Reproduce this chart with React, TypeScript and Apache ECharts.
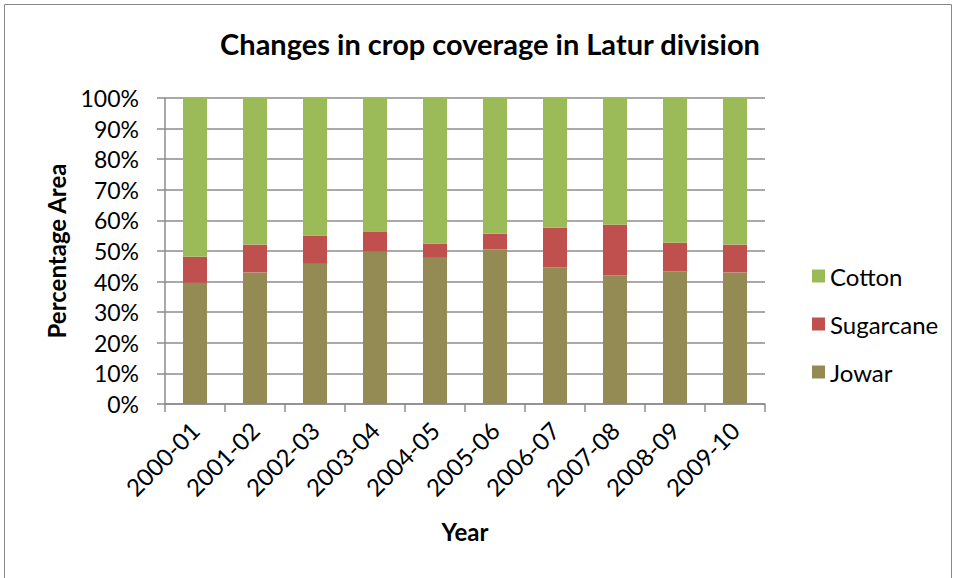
import React, { useEffect, useRef } from "react";
import * as echarts from "echarts";

const years = ["2000-01", "2001-02", "2002-03", "2003-04", "2004-05", "2005-06", "2006-07", "2007-08", "2008-09", "2009-10"];
const jowar = [39.6, 43.0, 45.8, 49.8, 48.0, 50.5, 44.7, 42.0, 43.4, 43.0];
const sugarcane = [8.5, 9.1, 9.2, 6.6, 4.4, 5.2, 12.9, 16.6, 9.3, 9.1];
const cotton = [51.9, 47.9, 45.0, 43.6, 47.6, 44.3, 42.4, 41.4, 47.3, 47.9];

const FONT = "Lato";

export default function App() {
  const ref = useRef<HTMLDivElement>(null);
  useEffect(() => {
    if (!ref.current) return;
    const chart = echarts.init(ref.current, undefined, { renderer: "svg" });
    const axisColor = "#8c8c8c";
    chart.setOption({
      animation: false,
      backgroundColor: "#ffffff",
      textStyle: { fontFamily: FONT, color: "#000" },
      title: {
        text: "Changes in crop coverage in Latur division",
        left: 485,
        textAlign: "center",
        top: 24,
        textStyle: { fontFamily: FONT, fontWeight: "bold", fontSize: 29, color: "#000" },
      },
      graphic: [
        {
          type: "rect",
          shape: { x: 4.5, y: 4.5, width: 947, height: 620 },
          style: { fill: "none", stroke: "#888", lineWidth: 1 },
          silent: true,
        },
      ],
      legend: {
        orient: "vertical",
        left: 807,
        top: 259,
        itemWidth: 13,
        itemHeight: 13,
        itemGap: 24,
        data: ["Cotton", "Sugarcane", "Jowar"],
        textStyle: { fontFamily: FONT, fontSize: 24, color: "#000" },
        icon: "rect",
      },
      grid: { left: 165, right: 192, top: 98, bottom: 174, containLabel: false },
      xAxis: {
        type: "category",
        data: years,
        name: "Year",
        nameLocation: "middle",
        nameGap: 115,
        nameTextStyle: { fontFamily: FONT, fontWeight: "bold", fontSize: 24, color: "#000" },
        axisLine: { lineStyle: { color: axisColor, width: 1.5 } },
        axisTick: { show: true, length: 8, lineStyle: { color: axisColor, width: 1.5 } },
        axisLabel: { rotate: 45, fontFamily: FONT, fontSize: 24, color: "#000", margin: 22 },
      },
      yAxis: {
        type: "value",
        min: 0,
        max: 100,
        interval: 10,
        name: "Percentage Area",
        nameLocation: "middle",
        nameGap: 97,
        nameTextStyle: { fontFamily: FONT, fontWeight: "bold", fontSize: 24, color: "#000" },
        axisLine: { show: true, lineStyle: { color: axisColor, width: 1.5 } },
        axisTick: { show: true, length: 8, lineStyle: { color: axisColor, width: 1.5 } },
        axisLabel: { formatter: "{value}%", fontFamily: FONT, fontSize: 23, color: "#000", margin: 26 },
        splitLine: { show: true, lineStyle: { color: axisColor, width: 1.5 } },
      },
      series: [
        { name: "Jowar", type: "bar", stack: "a", data: jowar, barWidth: 24, itemStyle: { color: "#948A54" } },
        { name: "Sugarcane", type: "bar", stack: "a", data: sugarcane, barWidth: 24, itemStyle: { color: "#C0504D" } },
        { name: "Cotton", type: "bar", stack: "a", data: cotton, barWidth: 24, itemStyle: { color: "#9BBB59" } },
      ],
    });
    return () => chart.dispose();
  }, []);
  return <div ref={ref} style={{ width: 957, height: 578, position: "absolute", left: 0, top: 0 }} />;
}
